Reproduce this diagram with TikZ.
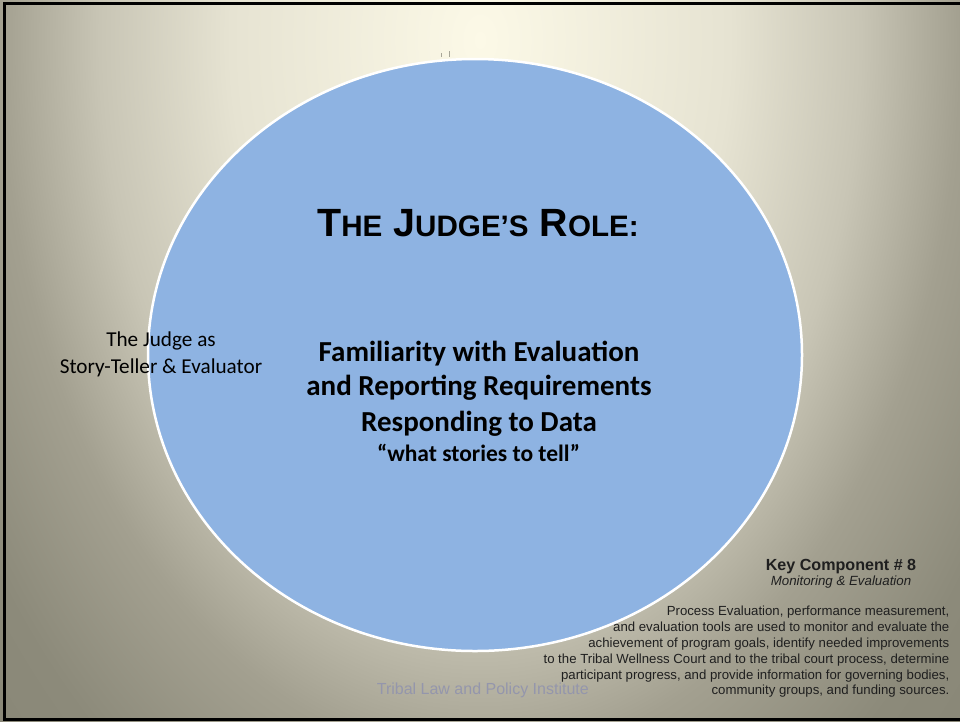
\documentclass[tikz,border=0pt]{standalone}
\usepackage{fontspec}
\setmainfont{Carlito}
\newfontfamily\arialf{Liberation Sans}
\definecolor{bgA}{HTML}{FCF9E7}
\definecolor{bgB}{HTML}{E6E3D2}
\definecolor{bgC}{HTML}{C8C5B5}
\definecolor{bgD}{HTML}{A3A090}
\definecolor{bgE}{HTML}{8C8A7A}
\definecolor{bgF}{HTML}{858373}
\definecolor{ovalblue}{HTML}{8EB3E2}
\definecolor{footgray}{HTML}{9496AC}
\definecolor{tickgray}{HTML}{A8A698}
\pgfdeclareradialshading{slidebg}{\pgfpoint{0bp}{0bp}}{color(0bp)=(bgA); color(7.8bp)=(bgB); color(11.9bp)=(bgC); color(15bp)=(bgD); color(18.75bp)=(bgE); color(25bp)=(bgF); color(50bp)=(bgF)}
\newcommand\fakesc[2]{{\fontsize{39.4}{44}\selectfont #1}{\fontsize{29.6}{33}\selectfont #2}}
\tikzset{
  bodyline/.style={anchor=base, inner sep=0pt, font=\bfseries\fontsize{29}{33}\selectfont},
  sideline/.style={anchor=base, inner sep=0pt, font=\fontsize{21.2}{25}\selectfont},
  kcline/.style={anchor=base east, inner sep=0pt, font=\arialf\fontsize{13.2}{16}\selectfont, text=black!88},
}
\begin{document}
\begin{tikzpicture}[x=1pt, y=-1pt]
\useasboundingbox (0,0) rectangle (960,721);
\begin{scope}
  \clip (0,0) rectangle (960,721);
  \shade[shading=slidebg] (480,40) ellipse [x radius=800, y radius=1200];
\end{scope}
\draw[line width=3pt] (4.5,3.5) rectangle (963,719.5);
\draw[tickgray, line width=0.8pt] (441.5,53) -- (441.5,57);
\draw[tickgray, line width=0.8pt] (449,51) -- (449,57);
\fill[ovalblue, draw=white, line width=2.5pt] (475,355) ellipse [x radius=327, y radius=296];
\node[anchor=base, inner sep=0pt, font=\arialf\bfseries\fontsize{39.4}{44}\selectfont] (title) at (478,236) {\fakesc{T}{HE} \fakesc{J}{UDGE’S} \fakesc{R}{OLE:}};
\node[bodyline] (l1) at (479,361) {Familiarity with Evaluation};
\node[bodyline] (l2) at (479,395.7) {and Reporting Requirements};
\node[bodyline] (l3) at (479,431.7) {Responding to Data};
\node[anchor=base, inner sep=0pt, font=\bfseries\fontsize{23.5}{28}\selectfont] (l4) at (478.5,461.5) {“what stories to tell”};
\node[sideline] (s1) at (161,346.7) {The Judge as};
\node[sideline] (s2) at (161,373) {Story-Teller \& Evaluator};
\node[anchor=base, inner sep=0pt, font=\arialf\bfseries\fontsize{16.1}{19}\selectfont, text=black!88] (kc) at (841,570) {Key Component \# 8};
\node[anchor=base, inner sep=0pt, font=\arialf\itshape\fontsize{13.3}{16}\selectfont, text=black!88] (kcs) at (841,585.7) {Monitoring \& Evaluation};
\node[kcline] (p1) at (949.5,615.7) {Process Evaluation, performance measurement,};
\node[kcline] (p2) at (949.5,631.5) {and evaluation tools are used to monitor and evaluate the};
\node[kcline] (p3) at (949.5,647.3) {achievement of program goals, identify needed improvements};
\node[kcline] (p4) at (949.5,663) {to the Tribal Wellness Court and to the tribal court process, determine};
\node[kcline] (p5) at (949.5,679) {participant progress, and provide information for governing bodies,};
\node[kcline] (p6) at (949.5,694.7) {community groups, and funding sources.};
\node[anchor=base, inner sep=0pt, font=\arialf\fontsize{16}{19}\selectfont, text=footgray] (foot) at (482.8,694.3) {Tribal Law and Policy Institute};
\end{tikzpicture}
\end{document}
